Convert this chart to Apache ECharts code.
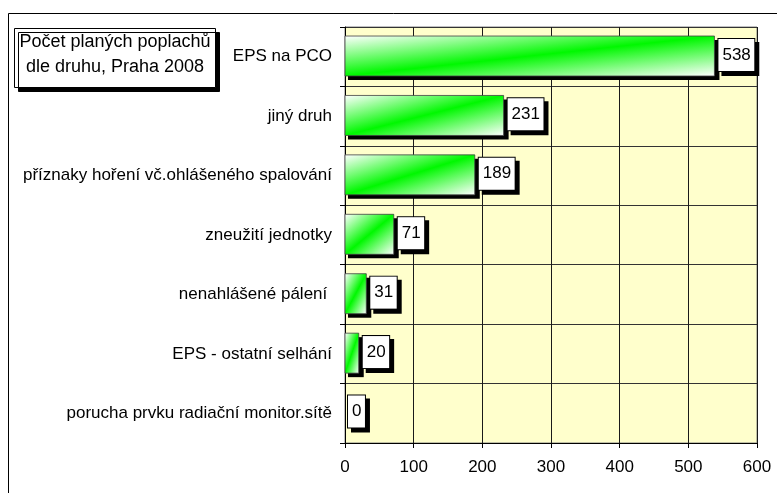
<!DOCTYPE html>
<html>
<head>
<meta charset="utf-8">
<script src="https://cdn.jsdelivr.net/npm/echarts@6/dist/echarts.min.js"></script>
<style>
html,body{margin:0;padding:0;background:#fff;overflow:hidden;}
#c{width:777px;height:493px;}
</style>
</head>
<body>
<div id="c"></div>
<script>
var categories = [
  'EPS na PCO',
  'jiný druh',
  'příznaky hoření vč.ohlášeného spalování',
  'zneužití jednotky',
  'nenahlášené pálení ',
  'EPS - ostatní selhání',
  'porucha prvku radiační monitor.sítě'
];
var values = [538, 231, 189, 71, 31, 20, 0];
var xTicks = [0, 100, 200, 300, 400, 500, 600];
var titleLines = ['Počet planých poplachů', 'dle druhu, Praha 2008'];

var FONT = '"Liberation Sans", Arial, sans-serif';

var seriesData = values.map(function (v, i) { return [v, i]; });

function renderItem(params, api) {
  var v = api.value(0), idx = api.value(1);
  var start = api.coord([0, idx]);
  var end = api.coord([v, idx]);
  var band = Math.abs(api.size([0, 1])[1]);
  var h = band * 0.673;
  var x0 = start[0], x1 = end[0];
  var top = start[1] - h / 2 - 0.7;
  var w = x1 - x0;
  var children = [];
  if (w > 0.5) {
    var a = 2 * w * h / (h * h + w * w);
    children.push({
      type: 'rect',
      shape: {x: x0 + 3, y: top + 4, width: w + 2, height: h},
      style: {fill: '#000'}
    });
    children.push({
      type: 'rect',
      shape: {x: x0, y: top, width: w, height: h},
      style: {
        fill: new echarts.graphic.LinearGradient(x0, top, x0 + a * h, top + a * w, [
          {offset: 0, color: '#ffffff'},
          {offset: 0.5, color: '#00f800'},
          {offset: 1, color: '#ffffff'}
        ], true),
        stroke: '#404040', lineWidth: 0.8
      }
    });
  }
  children.push({
    type: 'text',
    x: (w > 0.5 ? x1 + 4 : x0 + 3),
    y: start[1] - 1.8,
    style: {
      text: String(v), fill: '#000', font: '17px ' + FONT,
      align: 'left', verticalAlign: 'middle', lineHeight: 17,
      backgroundColor: '#fff', borderColor: '#000', borderWidth: 1,
      padding: [7.5, 3.5, 7.5, 4],
      shadowColor: '#000', shadowOffsetX: 4, shadowOffsetY: 4, shadowBlur: 0
    }
  });
  return {type: 'group', children: children};
}

var option = {
  animation: false,
  backgroundColor: '#ffffff',
  textStyle: {fontFamily: FONT},
  grid: {
    left: 345, top: 27, width: 412, height: 416,
    show: true, backgroundColor: '#FFFFCC', borderColor: '#808080', borderWidth: 1
  },
  xAxis: {
    type: 'value', min: xTicks[0], max: xTicks[xTicks.length - 1], interval: 100,
    axisLine: {show: true, lineStyle: {color: '#000', width: 1}},
    axisTick: {show: true, length: 5, lineStyle: {color: '#000'}},
    splitLine: {show: true, lineStyle: {color: '#1a1a1a', width: 1}},
    axisLabel: {color: '#000', fontSize: 17, fontFamily: FONT, margin: 16}
  },
  yAxis: {
    type: 'category', data: categories, inverse: true,
    axisLine: {show: true, lineStyle: {color: '#000', width: 1}},
    axisTick: {show: true, length: 5, lineStyle: {color: '#000'}},
    splitLine: {show: true, lineStyle: {color: '#333', width: 1}},
    axisLabel: {color: '#000', fontSize: 17, fontFamily: FONT, margin: 13}
  },
  graphic: [
    {
      type: 'rect', left: 6, top: 11, z: -10, silent: true,
      shape: {width: 800, height: 500},
      style: {fill: 'none', stroke: '#000', lineWidth: 1}
    },
    {
      type: 'rect', left: 14, top: 28, z: 10,
      shape: {width: 201, height: 59},
      style: {fill: '#fff', stroke: '#000', lineWidth: 1,
        shadowColor: '#000', shadowOffsetX: 4, shadowOffsetY: 4, shadowBlur: 0}
    },
    {
      type: 'text', x: 115, y: 55, z: 11,
      style: {
        text: titleLines.join('\n'), fill: '#000', font: '18px ' + FONT,
        align: 'center', verticalAlign: 'middle', lineHeight: 25
      }
    }
  ],
  series: [{
    type: 'custom',
    renderItem: renderItem,
    encode: {x: 0, y: 1},
    data: seriesData,
    clip: false
  }]
};

var chart = echarts.init(document.getElementById('c'), null, {renderer: 'canvas'});
chart.setOption(option);
</script>
</body>
</html>
